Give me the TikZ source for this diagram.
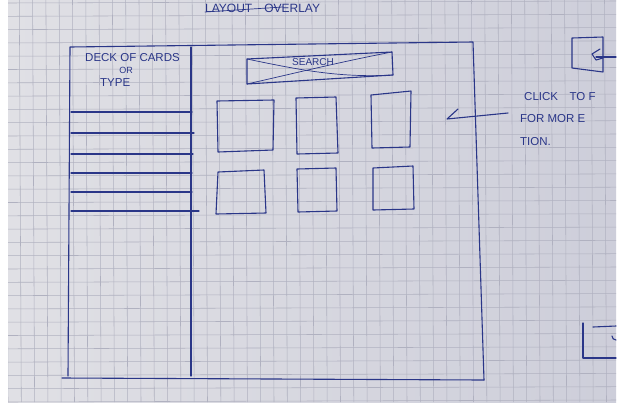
\documentclass[tikz,border=0pt]{standalone}
\usepackage{fontspec}
\setmainfont{Liberation Sans}
\definecolor{paper}{HTML}{CACBD8}
\definecolor{paperlight}{HTML}{E0E0E5}
\definecolor{gridline}{HTML}{B0B1C0}
\definecolor{inkblue}{HTML}{2A3688}
\begin{document}
\begin{tikzpicture}[x=1pt,y=-1pt,
  ink/.style={draw=inkblue, line width=1.1pt, line join=round, line cap=round},
  inkthin/.style={draw=inkblue, line width=0.7pt, line cap=round},
  hand/.style={text=inkblue, font=\fontsize{11.5}{13}\selectfont, inner sep=0pt},
  card/.style={ink},
]
\useasboundingbox (0,0) rectangle (624,408);
% sheet and squared ruling
\fill[white] (0,0) rectangle (624,408);
\begin{scope}
  \clip (8,0) rectangle (616,402);
  \shade[left color=paperlight, middle color=paper, right color=paper!85!paperlight] (8,0) rectangle (616,402);
  \foreach \gx in {0,...,46} \draw[gridline, line width=0.55pt] ({6+13.3*\gx},0) -- ({8+13.3*\gx},402);
  \foreach \gy in {0,...,30} \draw[gridline, line width=0.55pt] (8,{3+13.3*\gy}) -- (616,{1+13.3*\gy});
\end{scope}

% heading at the top edge
\node[hand, anchor=west, font=\fontsize{12}{13}\selectfont] (title) at (205,8) {LAYOUT\quad OVERLAY};
\draw[inkthin] (205,12) -- (283,7);

% outer frame and left panel
\coordinate (ftl) at (70,47);
\coordinate (ftr) at (473,42);
\coordinate (fbr) at (484,380);
\coordinate (fbl) at (62,378);
\draw[ink] (68,376) -- (ftl) -- (ftr) -- (fbr);
\draw[ink] (fbl) -- (fbr);
\draw[ink] (191,47) -- (191,376);

% left panel heading and list rows
\node[hand, anchor=west] (deck) at (85,58) {DECK OF CARDS};
\node[hand, font=\fontsize{9}{10}\selectfont] (or) at (126,70) {OR};
\node[hand, anchor=west] (type) at (100,83) {TYPE};
\foreach \ry/\rx in {112/192,133/194,154/193,173/192,192/192,211/199}
  \draw[ink] (71,\ry) -- (\rx,\ry);

% search bar
\coordinate (s1) at (247,59);
\coordinate (s2) at (392,52);
\coordinate (s3) at (393,75);
\coordinate (s4) at (247,84);
\draw[ink] (s1) -- (s2) -- (s3) -- (s4) -- cycle;
\draw[inkthin] (s1) .. controls (300,70) and (340,78) .. (s3);
\draw[inkthin] (s4) .. controls (300,72) and (340,62) .. (s2);
\node[hand, font=\fontsize{10}{11}\selectfont] (search) at (313,62) {SEARCH};

% card tiles
\draw[card] (217,101) -- (274,100) -- (273,150) -- (218,152) -- cycle;
\draw[card] (296,98) -- (336,97) -- (338,153) -- (297,154) -- cycle;
\draw[card] (371,95) -- (411,91) -- (410,147) -- (372,148) -- cycle;
\draw[card] (218,172) -- (264,170) -- (266,213) -- (216,214) -- cycle;
\draw[card] (297,169) -- (336,168) -- (337,211) -- (298,212) -- cycle;
\draw[card] (373,168) -- (413,166) -- (414,209) -- (373,210) -- cycle;

% note with its pointer
\node[hand, anchor=west] (note1) at (524,97) {CLICK\quad TO F};
\node[hand, anchor=west] (note2) at (520,119) {FOR MOR E};
\node[hand, anchor=west] (note3) at (520,142) {TION.};
\coordinate (ptr) at (447,119);
\draw[ink] (note2.west) ++(-12,-6) coordinate (ptrstart) -- (ptr) -- (458,109);

% partial sketches at the right edge
\draw[ink] (572,38) -- (603,37) -- (603,72) -- (572,68) -- cycle;
\draw[ink] (600,49) -- (592,54) -- (596,60) -- (603,58);
\draw[ink] (596,57) -- (616,57);
\draw[ink] (583,323) -- (583,358) -- (616,358);
\draw[ink] (593,327) -- (616,326);
\draw[ink] (616,340) arc (90:180:4);
\end{tikzpicture}
\end{document}
